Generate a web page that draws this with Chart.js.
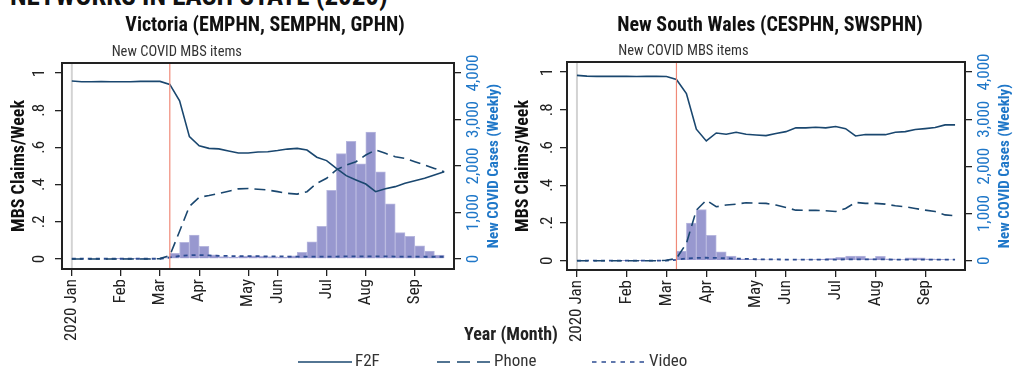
<!DOCTYPE html>
<html>
<head>
<meta charset="utf-8">
<title>MBS claims and new COVID cases, 2020</title>
<script src="https://cdn.jsdelivr.net/npm/chart.js@4.4.1/dist/chart.umd.min.js"></script>
<style>
  html, body { margin: 0; padding: 0; }
  body { width: 1013px; height: 367px; overflow: hidden; position: relative; background: #fff;
         font-family: 'Liberation Sans Narrow', 'Roboto Condensed', Roboto, sans-serif; color: #222; }
  canvas { position: absolute; top: 0; }
  #vic { left: 0; }
  #nsw { left: 506px; }
  .head { position: absolute; left: 10px; top: -17px; font-size: 27px; font-weight: bold; line-height: 26px; white-space: nowrap; color: #111; }
  .xtitle { position: absolute; left: 0; width: 1022px; top: 323px; text-align: center; font-size: 18px; font-weight: bold; line-height: 22px; }
  .key { position: absolute; top: 350px; height: 20px; font-size: 17px; line-height: 20px; color: #333; white-space: nowrap; }
  .key svg { vertical-align: middle; margin-right: 3px; }
</style>
</head>
<body>
<div class="head">NETWORKS IN EACH STATE (2020)</div>
<canvas id="vic" width="530" height="367"></canvas>
<canvas id="nsw" width="530" height="367"></canvas>
<div class="xtitle">Year (Month)</div>
<div class="key" style="left:298px"><svg width="54" height="4"><line x1="0" y1="2" x2="54" y2="2" stroke="#1a476f" stroke-width="1.6"/></svg>F2F</div>
<div class="key" style="left:437px"><svg width="54" height="4"><line x1="0" y1="2" x2="54" y2="2" stroke="#1a476f" stroke-width="1.6" stroke-dasharray="13 7"/></svg>Phone</div>
<div class="key" style="left:592px"><svg width="54" height="4"><line x1="0" y1="2" x2="54" y2="2" stroke="#2c4c92" stroke-width="1.6" stroke-dasharray="4.5 5"/></svg>Video</div>
<script>
const FONT = "'Liberation Sans Narrow', 'Roboto Condensed', Roboto, sans-serif";
const NAVY = '#1a476f';
const BLUE = '#1f77c8';

// weeks since the first week of 2020
const weeks = [0, 1, 2, 3, 4, 5, 6, 7, 8, 9, 10, 11, 12, 13, 14, 15, 16, 17, 18, 19,
  20, 21, 22, 23, 24, 25, 26, 27, 28, 29, 30, 31, 32, 33, 34, 35, 36, 37, 38];
const caseWeeks = [0, 1, 2, 3, 4, 5, 6, 7, 8, 9, 10, 11, 12, 13, 14, 15, 16, 17, 18, 19,
  20, 21, 22, 23, 24, 25, 26, 27, 28, 29, 30, 31, 32, 33, 34, 35, 36, 37];
const monthTicks = [0, 5, 9, 13, 18, 21, 26, 30, 35];
const monthLabels = ['2020 Jan', 'Feb', 'Mar', 'Apr', 'May', 'Jun', 'Jul', 'Aug', 'Sep'];
const claimTicks = [0, 0.2, 0.4, 0.6, 0.8, 1];
const claimLabels = ['0', '.2', '.4', '.6', '.8', '1'];
const caseTicks = [0, 1000, 2000, 3000, 4000];
const caseLabels = ['0', '1,000', '2,000', '3,000', '4,000'];
const mbsStartWeek = 10;

// Victoria
const vicF2F = [0.957, 0.953, 0.953, 0.954, 0.953, 0.953, 0.953, 0.955, 0.956, 0.955,
  0.939, 0.851, 0.658, 0.609, 0.595, 0.592, 0.581, 0.570, 0.570, 0.575,
  0.577, 0.583, 0.591, 0.595, 0.586, 0.547, 0.529, 0.487, 0.448, 0.425,
  0.403, 0.362, 0.378, 0.389, 0.407, 0.421, 0.434, 0.452, 0.469];
const vicPhone = [0, 0, 0, 0, 0, 0, 0, 0, 0, 0.002,
  0.018, 0.149, 0.283, 0.332, 0.341, 0.352, 0.364, 0.377, 0.379, 0.375,
  0.371, 0.362, 0.353, 0.349, 0.362, 0.407, 0.434, 0.479, 0.505, 0.523,
  0.559, 0.586, 0.568, 0.550, 0.541, 0.523, 0.505, 0.487, 0.469];
const vicVideo = [0.001, 0.001, 0.001, 0.001, 0.001, 0.001, 0.001, 0.001, 0.001, 0.001,
  0.008, 0.016, 0.020, 0.021, 0.019, 0.017, 0.016, 0.015, 0.015, 0.015,
  0.014, 0.014, 0.013, 0.013, 0.013, 0.013, 0.013, 0.013, 0.014, 0.014,
  0.014, 0.014, 0.014, 0.013, 0.013, 0.013, 0.012, 0.012, 0.012];
const vicCases = [0, 0, 0, 0, 2, 3, 5, 8, 15, 30,
  120, 357, 513, 271, 90, 50, 40, 60, 70, 60,
  50, 40, 70, 140, 370, 700, 1475, 2267, 2530, 2045,
  2730, 1875, 1185, 565, 485, 285, 170, 85];

// New South Wales
const nswF2F = [0.982, 0.978, 0.977, 0.977, 0.977, 0.977, 0.976, 0.977, 0.977, 0.976,
  0.960, 0.886, 0.697, 0.635, 0.677, 0.670, 0.681, 0.670, 0.666, 0.663,
  0.674, 0.684, 0.704, 0.704, 0.707, 0.704, 0.711, 0.700, 0.661, 0.669,
  0.668, 0.668, 0.681, 0.684, 0.695, 0.700, 0.706, 0.720, 0.720];
const nswPhone = [0, 0, 0, 0, 0, 0, 0, 0, 0, 0.003,
  0.012, 0.092, 0.268, 0.321, 0.286, 0.295, 0.300, 0.307, 0.305, 0.304,
  0.295, 0.282, 0.268, 0.267, 0.267, 0.265, 0.261, 0.277, 0.309, 0.304,
  0.304, 0.300, 0.291, 0.286, 0.277, 0.268, 0.261, 0.243, 0.238];
const nswVideo = [0.001, 0.001, 0.001, 0.001, 0.001, 0.001, 0.001, 0.001, 0.001, 0.001,
  0.005, 0.012, 0.015, 0.016, 0.015, 0.013, 0.011, 0.010, 0.008, 0.007,
  0.007, 0.006, 0.006, 0.006, 0.006, 0.006, 0.006, 0.007, 0.007, 0.007,
  0.007, 0.007, 0.006, 0.006, 0.006, 0.006, 0.006, 0.006, 0.006];
const nswCases = [0, 0, 0, 0, 1, 2, 3, 5, 10, 30,
  204, 800, 1082, 541, 190, 99, 42, 30, 25, 20,
  15, 15, 20, 25, 35, 50, 70, 100, 100, 45,
  95, 40, 25, 60, 60, 40, 30, 20];

// vertical markers, plot frame, note and right axis title
const panelExtras = {
  id: 'panelExtras',
  beforeDatasetsDraw(chart) {
    const {ctx, chartArea: a} = chart;
    const x0 = chart.scales.x.getPixelForValue(weeks[0]);
    ctx.save();
    ctx.strokeStyle = '#d3d3d3';
    ctx.lineWidth = 2;
    ctx.beginPath();
    ctx.moveTo(x0, a.top);
    ctx.lineTo(x0, a.bottom);
    ctx.stroke();
    ctx.restore();
  },
  afterDatasetsDraw(chart) {
    const {ctx, chartArea: a} = chart;
    const xr = chart.scales.x.getPixelForValue(mbsStartWeek);
    ctx.save();
    ctx.strokeStyle = '#f08a78';
    ctx.lineWidth = 1.2;
    ctx.beginPath();
    ctx.moveTo(xr, a.top);
    ctx.lineTo(xr, a.bottom);
    ctx.stroke();

    ctx.strokeStyle = '#222';
    ctx.lineWidth = 2;
    ctx.strokeRect(a.left, a.top, a.right - a.left, a.bottom - a.top);

    ctx.fillStyle = '#333';
    ctx.font = '14.5px ' + FONT;
    ctx.textAlign = 'center';
    ctx.textBaseline = 'middle';
    ctx.fillText('New COVID MBS items', xr + 7, a.top - 11);

    ctx.translate(a.right + 40, (a.top + a.bottom) / 2);
    ctx.rotate(-Math.PI / 2);
    ctx.fillStyle = BLUE;
    ctx.font = 'bold 15px ' + FONT;
    ctx.fillText('New COVID Cases (Weekly)', 0, 0);
    ctx.restore();
  }
};

function toPoints(xs, ys, shift) {
  return ys.map((v, i) => ({x: xs[i] + shift, y: v}));
}

function makePanel(id, title, f2f, phone, video, cases, g) {
  const tickFont = {family: FONT, size: 17};
  const tickGrid = {drawOnChartArea: false, drawTicks: true, tickLength: 7, color: '#222', lineWidth: 1.3, offset: false};
  return new Chart(document.getElementById(id), {
    type: 'line',
    data: {
      datasets: [
        {label: 'F2F', data: toPoints(weeks, f2f, 0), borderColor: NAVY, borderWidth: 1.6,
         pointRadius: 0, yAxisID: 'y'},
        {label: 'Phone', data: toPoints(weeks, phone, 0), borderColor: NAVY, borderWidth: 1.6,
         borderDash: [11, 6], pointRadius: 0, yAxisID: 'y'},
        {label: 'Video', data: toPoints(weeks, video, 0), borderColor: '#2c4c92', borderWidth: 1.8,
         borderDash: [4, 4], pointRadius: 0, yAxisID: 'y'},
        {type: 'bar', label: 'New COVID Cases', data: toPoints(caseWeeks, cases, 0.5),
         backgroundColor: '#9898cf', borderColor: '#b7b7de', borderWidth: 1,
         barPercentage: 1, categoryPercentage: 1, yAxisID: 'y2'}
      ]
    },
    options: {
      responsive: false,
      animation: false,
      events: [],
      layout: {padding: {left: g.padL, right: g.padR, top: 0, bottom: g.padB}},
      plugins: {
        legend: {display: false},
        tooltip: {enabled: false},
        title: {
          display: true, text: title, color: '#111',
          font: {family: FONT, size: 20, weight: 'bold', lineHeight: 1.2},
          padding: {top: 14, bottom: g.titleGap}
        }
      },
      scales: {
        x: {
          type: 'linear', min: -1, max: 39, offset: false,
          afterBuildTicks: s => { s.ticks = monthTicks.map(v => ({value: v})); },
          afterFit: s => { s.height = 80; },
          ticks: {autoSkip: false, minRotation: 90, maxRotation: 90, padding: 3, color: '#222',
                  font: tickFont, callback: (v, i) => monthLabels[i]},
          grid: tickGrid,
          border: {display: false}
        },
        y: {
          position: 'left', min: g.yMin, max: g.yMax,
          afterBuildTicks: s => { s.ticks = claimTicks.map(v => ({value: v})); },
          afterFit: s => { s.width = g.leftW; },
          ticks: {minRotation: 90, crossAlign: 'center', padding: g.leftPad, color: '#222',
                  font: tickFont, callback: (v, i) => claimLabels[i]},
          grid: tickGrid,
          border: {display: false},
          title: {display: true, text: 'MBS Claims/Week', color: '#111',
                  font: {family: FONT, size: 18, weight: 'bold'}, padding: {top: g.titlePad, bottom: 0}}
        },
        y2: {
          position: 'right', min: g.yMin * 4000, max: g.yMax * 4000,
          afterBuildTicks: s => { s.ticks = caseTicks.map(v => ({value: v})); },
          afterFit: s => { s.width = g.rightW; },
          ticks: {minRotation: 90, crossAlign: 'center', padding: g.rightPad, color: BLUE,
                  font: tickFont, callback: (v, i) => caseLabels[i]},
          grid: tickGrid,
          border: {display: false}
        }
      }
    },
    plugins: [panelExtras]
  });
}

makePanel('vic', 'Victoria (EMPHN, SEMPHN, GPHN)', vicF2F, vicPhone, vicVideo, vicCases,
  {padL: 2, padR: 2, padB: 18, titleGap: 25, leftW: 60, rightW: 74, yMin: -0.054, yMax: 1.054,
   leftPad: 9, rightPad: -6, titlePad: 7});
makePanel('nsw', 'New South Wales (CESPHN, SWSPHN)', nswF2F, nswPhone, nswVideo, nswCases,
  {padL: 2, padR: 4, padB: 17, titleGap: 24, leftW: 59, rightW: 67, yMin: -0.049, yMax: 1.053,
   leftPad: 6, rightPad: -6, titlePad: 5});
</script>
</body>
</html>
